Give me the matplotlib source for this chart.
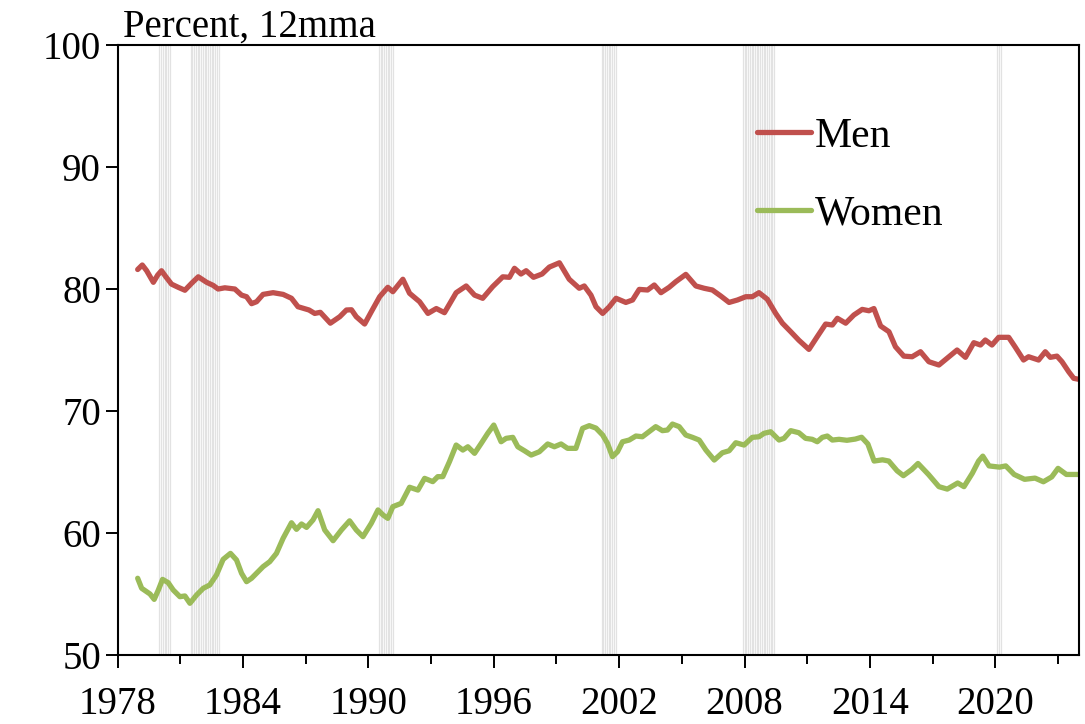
import numpy as np
import matplotlib
matplotlib.use("Agg")
import matplotlib.pyplot as plt
from matplotlib.ticker import FixedLocator

# данные (год, процент, скользящее среднее за 12 мес.)
men_years = [1978.96, 1979.18, 1979.39, 1979.71, 1979.92, 1980.10, 1980.31, 1980.58, 1980.90,
             1981.22, 1981.54, 1981.86, 1982.26, 1982.57, 1982.81, 1983.13, 1983.61, 1983.93,
             1984.17, 1984.41, 1984.65, 1984.96, 1985.44, 1985.92, 1986.32, 1986.63, 1987.16,
             1987.43, 1987.70, 1988.18, 1988.63, 1988.95, 1989.19, 1989.42, 1989.82, 1990.14,
             1990.54, 1990.93, 1991.17, 1991.65, 1991.97, 1992.45, 1992.85, 1993.25, 1993.64,
             1994.20, 1994.68, 1995.08, 1995.47, 1995.95, 1996.43, 1996.75, 1996.99, 1997.30,
             1997.55, 1997.90, 1998.31, 1998.66, 1999.14, 1999.61, 2000.09, 2000.33, 2000.65,
             2000.89, 2001.21, 2001.53, 2001.85, 2002.32, 2002.64, 2002.96, 2003.36, 2003.68,
             2004.00, 2004.39, 2004.71, 2005.19, 2005.67, 2006.07, 2006.46, 2006.86, 2007.26,
             2007.66, 2008.06, 2008.37, 2008.69, 2009.09, 2009.49, 2009.81, 2010.21, 2010.60,
             2011.08, 2011.48, 2011.88, 2012.20, 2012.44, 2012.84, 2013.23, 2013.63, 2013.95,
             2014.19, 2014.51, 2014.91, 2015.22, 2015.62, 2016.02, 2016.42, 2016.82, 2017.30,
             2017.69, 2018.17, 2018.57, 2018.97, 2019.29, 2019.52, 2019.84, 2020.16, 2020.64,
             2020.96, 2021.35, 2021.59, 2022.07, 2022.39, 2022.63, 2022.95, 2023.19, 2023.51,
             2023.75, 2023.99]
men_vals = [81.6, 81.97, 81.5, 80.55, 81.15, 81.5, 81.0, 80.4, 80.14,
            79.9, 80.47, 81.0, 80.55, 80.3, 80.0, 80.1, 80.0, 79.5,
            79.37, 78.8, 78.96, 79.56, 79.7, 79.56, 79.24, 78.55, 78.28,
            78.0, 78.09, 77.2, 77.73, 78.28, 78.3, 77.73, 77.13, 78.14,
            79.37, 80.14, 79.78, 80.8, 79.65, 78.96, 78.0, 78.4, 78.06,
            79.7, 80.25, 79.5, 79.24, 80.2, 81.0, 80.96, 81.7, 81.23,
            81.5, 80.96, 81.23, 81.8, 82.15, 80.8, 80.06, 80.25, 79.5,
            78.55, 78.0, 78.55, 79.24, 78.9, 79.1, 79.97, 79.92, 80.33,
            79.7, 80.14, 80.6, 81.2, 80.25, 80.06, 79.92, 79.43, 78.9,
            79.1, 79.37, 79.37, 79.7, 79.16, 78.0, 77.2, 76.5, 75.8,
            75.05, 76.1, 77.13, 77.05, 77.6, 77.2, 77.87, 78.33, 78.22,
            78.4, 76.97, 76.5, 75.27, 74.5, 74.45, 74.86, 74.04, 73.77,
            74.32, 75.0, 74.4, 75.6, 75.41, 75.82, 75.41, 76.04, 76.04,
            75.22, 74.18, 74.45, 74.18, 74.86, 74.4, 74.5, 74.04, 73.22,
            72.68, 72.6]

women_years = [1978.96, 1979.15, 1979.55, 1979.75, 1979.95, 1980.15, 1980.42, 1980.66, 1980.98,
               1981.22, 1981.46, 1981.78, 1982.10, 1982.41, 1982.73, 1983.05, 1983.40, 1983.69,
               1983.93, 1984.17, 1984.41, 1984.65, 1984.96, 1985.28, 1985.60, 1985.92, 1986.32,
               1986.56, 1986.80, 1987.04, 1987.35, 1987.59, 1987.91, 1988.31, 1988.71, 1989.10,
               1989.42, 1989.74, 1990.14, 1990.46, 1990.70, 1990.93, 1991.17, 1991.57, 1991.97,
               1992.37, 1992.69, 1993.08, 1993.32, 1993.56, 1993.88, 1994.20, 1994.52, 1994.76,
               1995.08, 1995.40, 1995.71, 1996.00, 1996.35, 1996.59, 1996.91, 1997.15, 1997.47,
               1997.79, 1998.18, 1998.58, 1998.90, 1999.22, 1999.53, 1999.93, 2000.25, 2000.57,
               2000.89, 2001.21, 2001.44, 2001.68, 2001.92, 2002.16, 2002.48, 2002.80, 2003.11,
               2003.43, 2003.75, 2004.07, 2004.31, 2004.55, 2004.87, 2005.19, 2005.51, 2005.83,
               2006.15, 2006.55, 2006.94, 2007.26, 2007.58, 2007.98, 2008.37, 2008.69, 2008.93,
               2009.25, 2009.65, 2009.89, 2010.21, 2010.60, 2010.92, 2011.24, 2011.48, 2011.72,
               2011.96, 2012.20, 2012.52, 2012.90, 2013.30, 2013.60, 2013.90, 2014.20, 2014.60,
               2014.90, 2015.30, 2015.60, 2016.00, 2016.30, 2016.80, 2017.30, 2017.70, 2018.20,
               2018.50, 2018.90, 2019.20, 2019.40, 2019.70, 2020.20, 2020.50, 2020.90, 2021.40,
               2021.90, 2022.30, 2022.70, 2023.00, 2023.40, 2023.99]
women_vals = [56.29, 55.47, 55.0, 54.56, 55.33, 56.2, 55.93, 55.33, 54.78,
              54.84, 54.24, 54.92, 55.47, 55.74, 56.56, 57.84, 58.33, 57.79,
              56.7, 56.01, 56.29, 56.7, 57.24, 57.65, 58.33, 59.57, 60.84,
              60.3, 60.74, 60.46, 61.07, 61.83, 60.25, 59.37, 60.25, 61.0,
              60.25, 59.7, 60.8, 61.89, 61.48, 61.2, 62.16, 62.43, 63.75,
              63.52, 64.48, 64.21, 64.62, 64.62, 65.85, 67.21, 66.8, 67.07,
              66.53, 67.35, 68.17, 68.85, 67.48, 67.76, 67.84, 67.07, 66.74,
              66.39, 66.66, 67.3, 67.07, 67.3, 66.94, 66.94, 68.58, 68.8,
              68.6, 68.03, 67.35, 66.26, 66.66, 67.48, 67.62, 67.95, 67.89,
              68.3, 68.72, 68.39, 68.44, 68.93, 68.72, 68.03, 67.84, 67.62,
              66.8, 65.98, 66.58, 66.74, 67.4, 67.21, 67.84, 67.89, 68.17,
              68.3, 67.62, 67.76, 68.39, 68.22, 67.76, 67.68, 67.48, 67.84,
              67.95, 67.62, 67.68, 67.6, 67.7, 67.85, 67.3, 65.9, 66.0,
              65.9, 65.1, 64.7, 65.2, 65.7, 64.8, 63.8, 63.6, 64.1,
              63.8, 64.9, 65.9, 66.3, 65.5, 65.4, 65.5, 64.8, 64.4,
              64.5, 64.2, 64.6, 65.3, 64.8, 64.8]

# рецессии (начало, конец) — год, месяц
recessions = [((1980, 1), (1980, 7)), ((1981, 7), (1982, 11)), ((1990, 7), (1991, 3)),
              ((2001, 3), (2001, 11)), ((2007, 12), (2009, 6)), ((2020, 2), (2020, 4))]

x_major = [1978, 1984, 1990, 1996, 2002, 2008, 2014, 2020]
x_minor = [1981, 1987, 1993, 1999, 2005, 2011, 2017, 2023]
y_ticks = [50, 60, 70, 80, 90, 100]

plt.rcParams['font.family'] = ['Liberation Serif', 'DejaVu Serif']

fig = plt.figure(figsize=(10.85, 7.24), dpi=100)
ax = fig.add_axes([0.1084, 0.0953, 0.886, 0.8425])

# серые полосы рецессий: одна тонкая линия на каждый месяц
for (y0, m0), (y1, m1) in recessions:
    n0 = y0 * 12 + m0 - 1
    n1 = y1 * 12 + m1 - 1
    for n in range(n0, n1 + 1):
        ax.axvline(n / 12.0, color='#e2e2e2', lw=0.9, zorder=0)

ax.plot(men_years, men_vals, color='#C0504D', lw=3.8, solid_capstyle='round',
        solid_joinstyle='round', label='Men')
ax.plot(women_years, women_vals, color='#9BBB59', lw=3.8, solid_capstyle='round',
        solid_joinstyle='round', label='Women')

ax.set_xlim(1978, 2024)
ax.set_ylim(50, 100)
ax.xaxis.set_major_locator(FixedLocator(x_major))
ax.xaxis.set_minor_locator(FixedLocator(x_minor))
ax.set_yticks(y_ticks)
ax.tick_params(axis='both', which='major', direction='out', length=9, width=1.4,
               labelsize=28, colors='black')
ax.tick_params(axis='x', which='major', pad=13)
ax.tick_params(axis='y', which='major', pad=3)
ax.tick_params(axis='x', which='minor', direction='out', length=6.5, width=1.4)
for s in ax.spines.values():
    s.set_linewidth(1.5)
    s.set_color('black')

ax.text(0.006, 1.014, 'Percent, 12mma', transform=ax.transAxes, fontsize=28,
        va='baseline', ha='left')

leg = ax.legend(loc='upper left', bbox_to_anchor=(0.665, 0.882), frameon=False,
                fontsize=30, handlelength=1.3, handletextpad=0.1, labelspacing=0.95,
                borderpad=0, borderaxespad=0)
for h in leg.get_lines():
    h.set_linewidth(3.8)
    h.set_solid_capstyle('round')

fig.savefig('out.png', dpi=100)
